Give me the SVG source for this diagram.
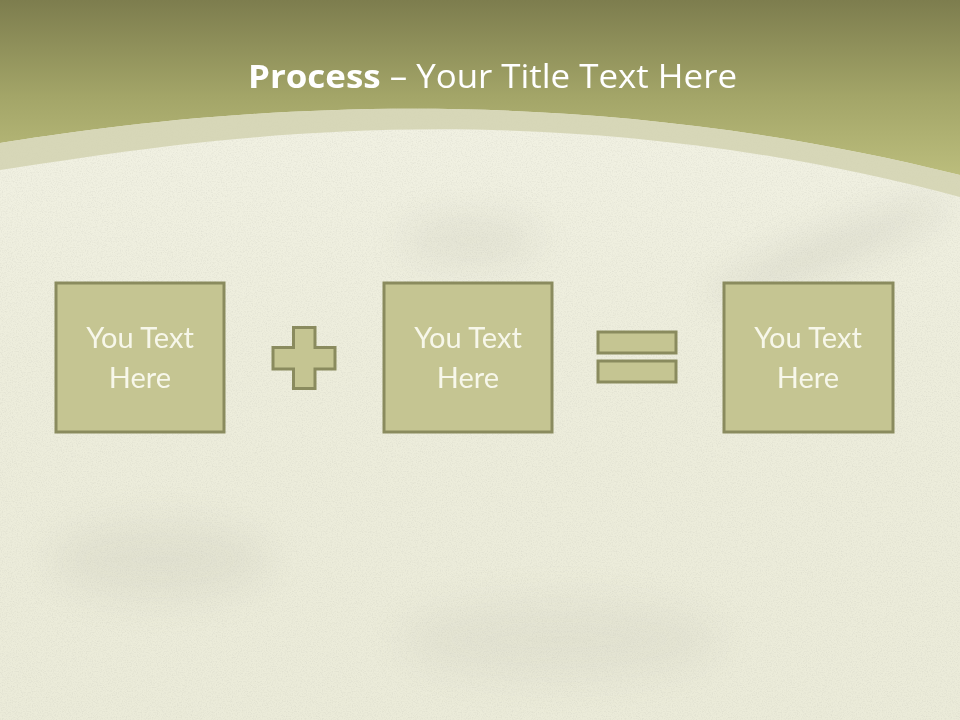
<svg xmlns="http://www.w3.org/2000/svg" width="960" height="720" viewBox="0 0 960 720">
  <defs>
    <linearGradient id="hdr" x1="0" y1="0" x2="0" y2="1">
      <stop offset="0" stop-color="#7d7d4e"/>
      <stop offset="0.55" stop-color="#a3a568"/>
      <stop offset="1" stop-color="#bbbd7c"/>
    </linearGradient>
    <linearGradient id="bg" x1="0" y1="0" x2="0" y2="1">
      <stop offset="0" stop-color="#f3f3e6"/>
      <stop offset="0.5" stop-color="#ededdc"/>
      <stop offset="1" stop-color="#ebebd9"/>
    </linearGradient>
    <filter id="noise" x="0" y="0" width="100%" height="100%">
      <feTurbulence type="fractalNoise" baseFrequency="0.8" numOctaves="2" seed="3"/>
      <feColorMatrix type="matrix" values="0 0 0 0 0.5  0 0 0 0 0.5  0 0 0 0 0.44  0 0 0 -2.2 1.2"/>
    </filter>
    <filter id="blur" x="-50%" y="-50%" width="200%" height="200%">
      <feGaussianBlur stdDeviation="18"/>
    </filter>
    <style>
      .box { fill: #c5c592; stroke: #8a8b5e; stroke-width: 3; }
      .lbl { font-family: Lato, "Open Sans", "Liberation Sans", sans-serif; font-size: 29px; fill: #f7f7ea; text-anchor: middle; }
      .ttl { font-family: "Open Sans", Lato, "Liberation Sans", sans-serif; font-size: 33px; fill: #ffffff; }
    </style>
  </defs>

  <!-- background -->
  <rect x="0" y="0" width="960" height="720" fill="url(#bg)"/>
  <g opacity="0.18" filter="url(#blur)">
    <ellipse cx="830" cy="250" rx="130" ry="18" fill="#9a9a8c" transform="rotate(-22 830 250)"/>
    <ellipse cx="160" cy="560" rx="110" ry="40" fill="#b5b5a5"/>
    <ellipse cx="560" cy="640" rx="160" ry="40" fill="#bdbdaf"/>
    <ellipse cx="470" cy="240" rx="70" ry="25" fill="#b0b0a0"/>
  </g>
  <rect x="0" y="0" width="960" height="720" filter="url(#noise)" opacity="0.25"/>

  <!-- header -->
  <path d="M0 0 H960 V175 C520 65 150 120 0 143 Z" fill="url(#hdr)"/>
  <path d="M0 143 C150 120 520 65 960 175 V197 C520 80 170 145 0 170 Z" fill="#d2d2b0" opacity="0.85"/>

  <text class="ttl" x="248" y="88" textLength="489" lengthAdjust="spacingAndGlyphs"><tspan font-weight="bold">Process</tspan> – Your Title Text Here</text>

  <!-- nodes -->
  <g id="node1">
    <rect class="box" x="56" y="283" width="168" height="149"/>
    <text class="lbl" x="140" y="348">You Text</text>
    <text class="lbl" x="140" y="388">Here</text>
  </g>
  <g id="plus">
    <path class="box" d="M293.5 327.5 H315 V347.5 H335 V369 H315 V388.5 H293.5 V369 H273 V347.5 H293.5 Z"/>
  </g>
  <g id="node2">
    <rect class="box" x="384" y="283" width="168" height="149"/>
    <text class="lbl" x="468" y="348">You Text</text>
    <text class="lbl" x="468" y="388">Here</text>
  </g>
  <g id="equals">
    <rect class="box" x="598" y="332" width="78" height="21"/>
    <rect class="box" x="598" y="361" width="78" height="21"/>
  </g>
  <g id="node3">
    <rect class="box" x="724" y="283" width="169" height="149"/>
    <text class="lbl" x="808" y="348">You Text</text>
    <text class="lbl" x="808" y="388">Here</text>
  </g>
  <g id="connectors"/>
</svg>
